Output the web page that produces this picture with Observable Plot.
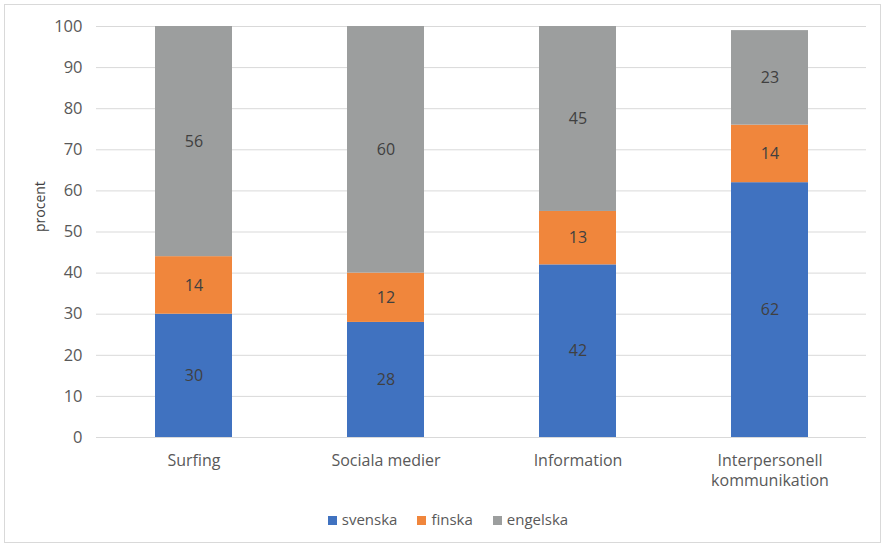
<!DOCTYPE html>
<html><head><meta charset="utf-8">
<script src="https://cdn.jsdelivr.net/npm/d3@7"></script>
<script src="https://cdn.jsdelivr.net/npm/@observablehq/plot@0.6"></script>
<style>
body{margin:0;background:#fff;font-family:"Open Sans",sans-serif;}
#wrap{position:relative;width:886px;height:549px;}
#frame{position:absolute;left:4px;top:4px;width:877px;height:539px;border:1px solid #d9d9d9;box-sizing:border-box;}
#chart{position:absolute;left:0;top:0;}
#legend{position:absolute;left:0;top:509px;width:886px;display:flex;justify-content:center;gap:20px;font-size:15px;color:#595959;padding-left:10px;box-sizing:border-box;}
#legend span.sw{display:inline-block;width:9px;height:9px;margin-right:5px;vertical-align:0px;}
</style></head>
<body><div id="wrap"><div id="frame"></div><div id="chart"></div><div id="legend"></div></div>
<script>
const categories = ["Surfing","Sociala medier","Information","Interpersonell\nkommunikation"];
const series = ["svenska","finska","engelska"];
const svenska = [30,28,42,62];
const finska = [14,12,13,14];
const engelska = [56,60,45,23];
const yTicks = [0,10,20,30,40,50,60,70,80,90,100];
const colors = ["#4072c0","#f0863c","#9c9e9e"];

const values = [svenska, finska, engelska];
const data = [];
categories.forEach((c,i)=>series.forEach((s,j)=>data.push({cat:c,series:s,value:values[j][i]})));

const plot = Plot.plot({
  width:886, height:500,
  marginLeft:96, marginRight:20, marginTop:26, marginBottom:63,
  style:{fontFamily:"Open Sans, sans-serif", fontSize:"16px", color:"#595959", background:"transparent"},
  x:{domain:categories, paddingInner:0.6, paddingOuter:0.3, label:null},
  y:{domain:[0,100], ticks:yTicks, label:null},
  color:{domain:series, range:colors},
  marks:[
    Plot.gridY(yTicks,{stroke:"#d9d9d9", strokeOpacity:1}),
    Plot.ruleY([0],{stroke:"#d9d9d9"}),
    Plot.barY(data, Plot.stackY({x:"cat", y:"value", fill:"series", z:"series"})),
    Plot.textY(data, Plot.stackY({x:"cat", y:"value", z:"series", text:d=>String(d.value), fill:"#404040", fontSize:16})),
    Plot.axisX({tickSize:0, tickPadding:14, fontSize:16, lineHeight:1.25}),
    Plot.axisY({ticks:yTicks, tickSize:0, tickPadding:14, fontSize:16.5}),
    Plot.text(["procent"],{frameAnchor:"left", dx:-56, rotate:-90, fontSize:14, fill:"#404040"})
  ]
});
document.getElementById("chart").appendChild(plot);

const leg = document.getElementById("legend");
series.forEach((s,j)=>{
  const d=document.createElement("div");
  d.innerHTML=`<span class="sw" style="background:${colors[j]}"></span>${s}`;
  leg.appendChild(d);
});
</script></body></html>
